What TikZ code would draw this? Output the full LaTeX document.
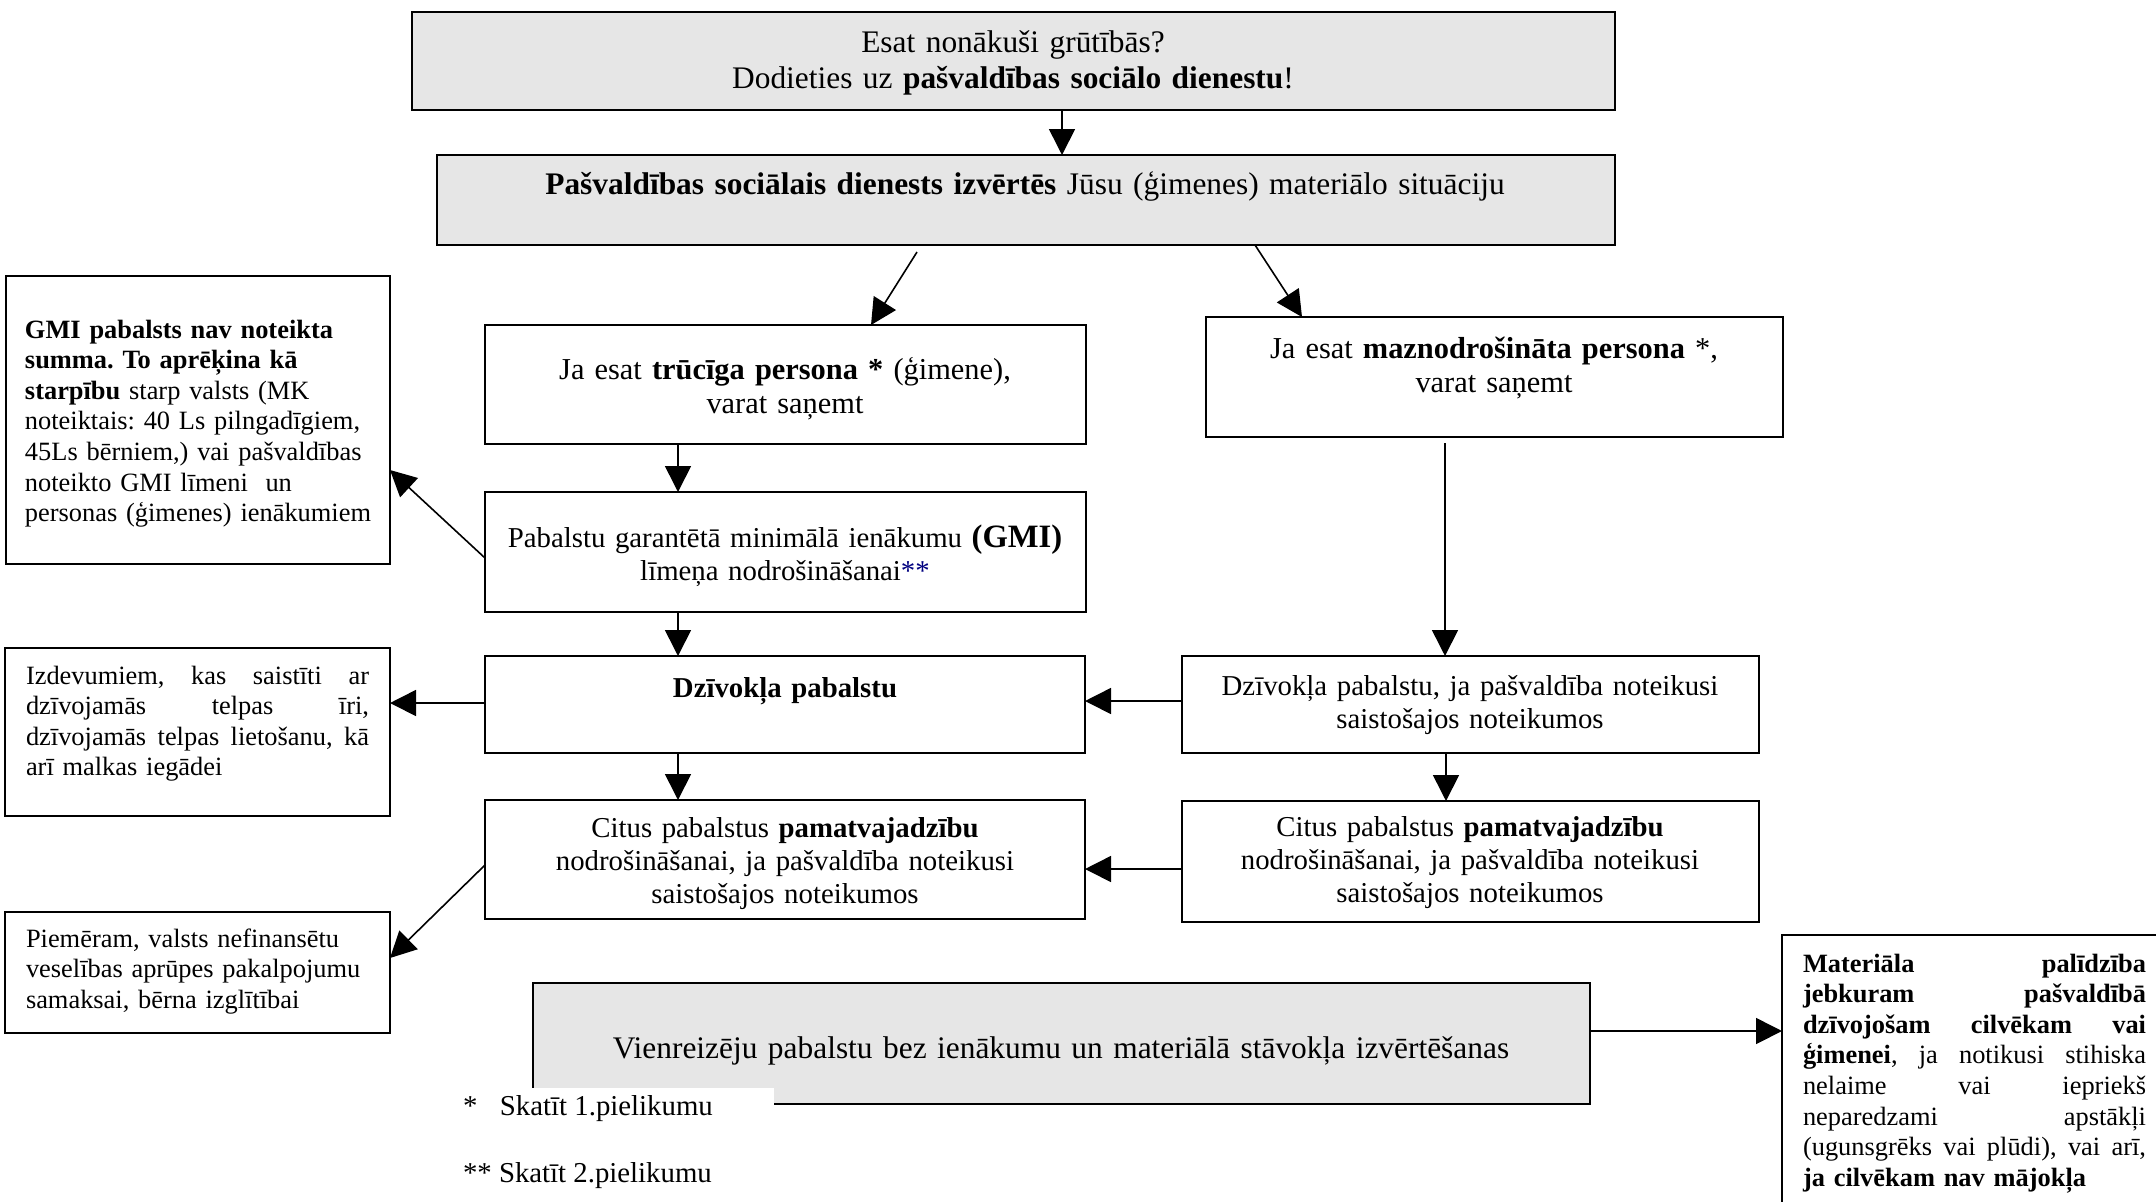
\documentclass[tikz,border=0pt]{standalone}
\usepackage{fontspec}
\setmainfont{Liberation Serif}
\usetikzlibrary{arrows.meta,calc}
\definecolor{boxgray}{HTML}{E6E6E6}
\definecolor{navyblue}{HTML}{000080}
\newcommand{\jline}[1]{{\spaceskip=0pt\xspaceskip=0pt\makebox[\linewidth][s]{#1}}}
\begin{document}
\begin{tikzpicture}[x=0.5pt,y=-0.5pt,
  box/.style={draw, line width=1pt, anchor=north west, inner sep=0pt, outer sep=0pt},
  graybox/.style={box, fill=boxgray, line width=1.4pt},
  arr/.style={line width=0.8pt, -{Triangle[length=13pt,width=13pt]}},
  txt/.style={inner sep=0pt, outer sep=0pt, anchor=base, align=center},
  ltxt/.style={inner sep=0pt, outer sep=0pt, anchor=base west, align=left},
  fbig/.style={font=\fontsize{15.7}{18}\selectfont\frenchspacing},
  fmid/.style={font=\fontsize{15.2}{17}\selectfont\frenchspacing},
  fmain/.style={font=\fontsize{14.4}{16.5}\selectfont\frenchspacing},
  fside/.style={font=\fontsize{13.2}{15.3}\selectfont\frenchspacing},
  ffoot/.style={font=\fontsize{14.4}{16}\selectfont\frenchspacing},
]
\useasboundingbox (0,0) rectangle (2156,1201);
\clip (0,0) rectangle (2156,1201);

% boxes
\node[graybox, minimum width=601.5pt, minimum height=49pt] (top) at (412,12) {};
\node[graybox, minimum width=589pt, minimum height=45pt] (b2) at (437,155) {};
\node[box, minimum width=300.5pt, minimum height=59.5pt] (poor) at (485,325) {};
\node[box, minimum width=288.5pt, minimum height=60pt] (mazn) at (1206,317) {};
\node[box, minimum width=300.5pt, minimum height=60pt] (gmi) at (485,492) {};
\node[box, minimum width=300pt, minimum height=48.5pt] (dzl) at (485,656) {};
\node[box, minimum width=288.5pt, minimum height=48.5pt] (dzr) at (1182,656) {};
\node[box, minimum width=300pt, minimum height=59.5pt] (citl) at (485,800) {};
\node[box, minimum width=288.5pt, minimum height=60.5pt] (citr) at (1182,801) {};
\node[graybox, line width=1pt, minimum width=528.5pt, minimum height=60.5pt] (vien) at (533,983) {};
\node[box, minimum width=192pt, minimum height=144pt] (gmis) at (6,276) {};
\node[box, minimum width=192.5pt, minimum height=84pt] (izd) at (5,648) {};
\node[box, minimum width=192.5pt, minimum height=60.5pt] (piem) at (5,912) {};
\node[box, minimum width=200pt, minimum height=150pt] (mat) at (1782,935) {};

% texts
\node[txt, fbig, text width=590pt] (toptext) at (1013,52)
  {Esat nonākuši grūtībās?\\Dodieties uz \textbf{pašvaldības sociālo dienestu}!};
\node[txt, fbig, text width=580pt] (b2text) at (1025,194)
  {\textbf{Pašvaldības sociālais dienests izvērtēs} Jūsu (ģimenes) materiālo situāciju};
\node[txt, fmid, text width=290pt] (poortext) at (785,379)
  {Ja esat \textbf{trūcīga persona *} (ģimene),\\varat saņemt};
\node[txt, fmid, text width=280pt] (mazntext) at (1494,358)
  {Ja esat \textbf{maznodrošināta persona} *,\\varat saņemt};
\node[txt, fmain, text width=295pt] (gmitext) at (785,547)
  {Pabalstu garantētā minimālā ienākumu {\fontsize{16.3}{16.3}\selectfont\textbf{(GMI)}}\\līmeņa nodrošināšanai\textcolor{navyblue}{**}};
\node[txt, fmain, text width=290pt] (dzltext) at (785,697)
  {\textbf{Dzīvokļa pabalstu}};
\node[txt, fmain, text width=280pt] (dzrtext) at (1470,695)
  {Dzīvokļa pabalstu, ja pašvaldība noteikusi\\saistošajos noteikumos};
\node[txt, fmain, text width=290pt] (citltext) at (785,837)
  {Citus pabalstus \textbf{pamatvajadzību}\\nodrošināšanai, ja pašvaldība noteikusi\\saistošajos noteikumos};
\node[txt, fmain, text width=280pt] (citrtext) at (1470,836)
  {Citus pabalstus \textbf{pamatvajadzību}\\nodrošināšanai, ja pašvaldība noteikusi\\saistošajos noteikumos};
\node[txt, fbig, text width=520pt] (vientext) at (1061,1058)
  {Vienreizēju pabalstu bez ienākumu un materiālā stāvokļa izvērtēšanas};
\node[ltxt, fside, text width=182pt] (gmistext) at (25,338)
  {\textbf{GMI pabalsts nav noteikta}\\
   \textbf{summa. To aprēķina kā}\\
   \textbf{starpību} starp valsts (MK\\
   noteiktais: 40 Ls pilngadīgiem,\\
   45Ls bērniem,) vai pašvaldības\\
   noteikto GMI līmeni\ \ un\\
   personas (ģimenes) ienākumiem};
\node[ltxt, fside, text width=171.5pt] (izdtext) at (26,684)
  {\jline{Izdevumiem, kas saistīti ar}\\
   \jline{dzīvojamās telpas īri,}\\
   \jline{dzīvojamās telpas lietošanu, kā}\\
   arī malkas iegādei};
\node[ltxt, fside, text width=180pt] (piemtext) at (26,947)
  {Piemēram, valsts nefinansētu\\
   veselības aprūpes pakalpojumu\\
   samaksai, bērna izglītībai};
\node[ltxt, fside, text width=171.5pt] (mattext) at (1803,972)
  {\jline{\textbf{Materiāla palīdzība}}\\
   \jline{\textbf{jebkuram pašvaldībā}}\\
   \jline{\textbf{dzīvojošam cilvēkam vai}}\\
   \jline{\textbf{ģimenei}, ja notikusi stihiska}\\
   \jline{nelaime vai iepriekš}\\
   \jline{neparedzami apstākļi}\\
   \jline{(ugunsgrēks vai plūdi), vai arī,}\\
   \textbf{ja cilvēkam nav mājokļa}};

% footnotes
\fill[white] (455,1088) rectangle (774,1128);
\node[ltxt, ffoot] (foot1) at (463,1115) {\makebox[18.5pt][l]{*}Skatīt 1.pielikumu};
\node[ltxt, ffoot] (foot2) at (463,1182) {** Skatīt 2.pielikumu};

% connectors
\draw[arr] ($(top.south west)+(650,0)$) -- ($(b2.north west)+(625,0)$);
\draw[arr] ($(b2.south west)+(480,7)$) -- ($(poor.north west)+(386,0)$);
\draw[arr] ($(b2.south west)+(818,0)$) -- ($(mazn.north west)+(96,0)$);
\draw[arr] ($(poor.south west)+(193,0)$) -- ($(gmi.north west)+(193,0)$);
\draw[arr] ($(mazn.south west)+(239,6)$) -- ($(dzr.north west)+(263,0)$);
\draw[arr] ($(gmi.south west)+(0,-54)$) -- ($(gmis.north east)+(0,194)$);
\draw[arr] ($(gmi.south west)+(193,0)$) -- ($(dzl.north west)+(193,0)$);
\draw[arr] ($(dzl.north west)+(0,47)$) -- ($(izd.north east)+(0,55)$);
\draw[arr] ($(dzr.north west)+(0,45)$) -- ($(dzl.north east)+(0,45)$);
\draw[arr] ($(dzl.south west)+(193,0)$) -- ($(citl.north west)+(193,0)$);
\draw[arr] ($(dzr.south west)+(264,0)$) -- ($(citr.north west)+(264,0)$);
\draw[arr] ($(citr.north west)+(0,68)$) -- ($(citl.north east)+(0,69)$);
\draw[arr] ($(citl.north west)+(0,65)$) -- ($(piem.north east)+(0,46)$);
\draw[arr] ($(vien.north east)+(0,48)$) -- ($(mat.north west)+(0,96)$);
\end{tikzpicture}
\end{document}
